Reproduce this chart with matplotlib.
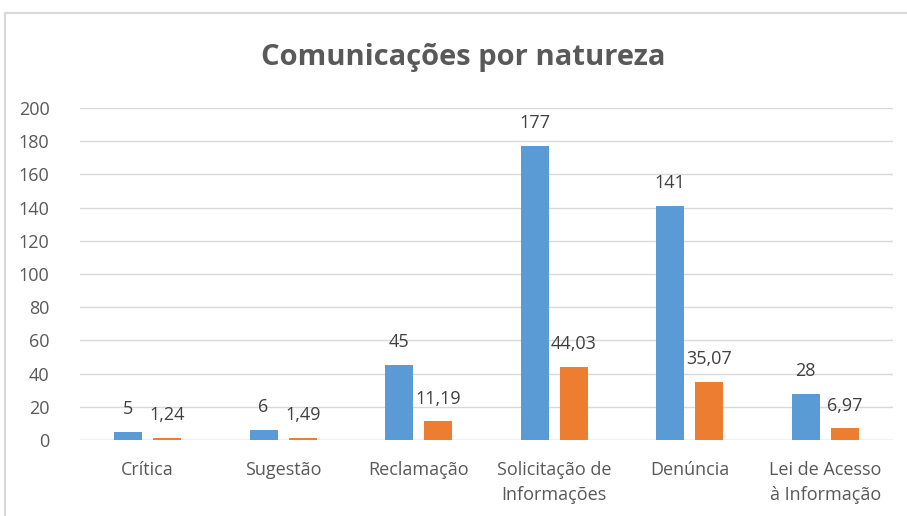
import matplotlib
matplotlib.use("Agg")
import matplotlib.pyplot as plt
from matplotlib import font_manager
import numpy as np

categories = ["Crítica", "Sugestão", "Reclamação", "Solicitação de\nInformações", "Denúncia", "Lei de Acesso\nà Informação"]
quantidade = [5, 6, 45, 177, 141, 28]
percentual = [1.24, 1.49, 11.19, 44.03, 35.07, 6.97]
yticks = [0, 20, 40, 60, 80, 100, 120, 140, 160, 180, 200]

names = {f.name for f in font_manager.fontManager.ttflist}
fam = "Liberation Sans Narrow" if "Liberation Sans Narrow" in names else "Open Sans"
plt.rcParams['font.family'] = [fam, 'DejaVu Sans']

blue = "#5B9BD5"
orange = "#ED7D31"
gray = "#595959"

fig = plt.figure(figsize=(9.07, 5.16), dpi=100)
ax = fig.add_axes([80/907, 76/516, 813/907, 332/516])

x = np.arange(len(categories))
w = 0.207
off = 0.145
b1 = ax.bar(x - off, quantidade, w, color=blue, zorder=3)
b2 = ax.bar(x + off, percentual, w, color=orange, zorder=3)

def fmt(v):
    if float(v).is_integer():
        return f"{int(v)}"
    return f"{v:.2f}".replace(".", ",")

for bars, vals in ((b1, quantidade), (b2, percentual)):
    for r, v in zip(bars, vals):
        ax.annotate(fmt(v), (r.get_x() + r.get_width()/2, r.get_height()),
                    xytext=(0, 10), textcoords="offset points", ha="center", va="bottom",
                    fontsize=13, color="#404040")

ax.set_xlim(-0.5, len(categories) - 0.5)
ax.set_ylim(0, 200)
ax.set_yticks(yticks)
ax.set_xticks(x)
ax.set_xticklabels(categories, fontsize=13, color=gray, linespacing=1.5)
ax.tick_params(axis='y', labelsize=13, labelcolor=gray, length=0, pad=22)
ax.tick_params(axis='x', length=0, pad=15)
ax.yaxis.grid(True, color="#D9D9D9", linewidth=1, zorder=0)
for s in ax.spines.values():
    s.set_visible(False)
ax.axhline(0, color="#D9D9D9", linewidth=1, zorder=2)

fig.text(463/907, 1 - 58/516, "Comunicações por natureza", ha="center", va="center",
         fontsize=21, fontweight="bold", color=gray)

fig.add_artist(plt.Line2D([5/907, 5/907], [0, 1 - 13/516], color="#D9D9D9", linewidth=1.5, transform=fig.transFigure))
fig.add_artist(plt.Line2D([5/907, 1], [1 - 13/516, 1 - 13/516], color="#D9D9D9", linewidth=1.5, transform=fig.transFigure))

fig.savefig("out.png", dpi=100)
